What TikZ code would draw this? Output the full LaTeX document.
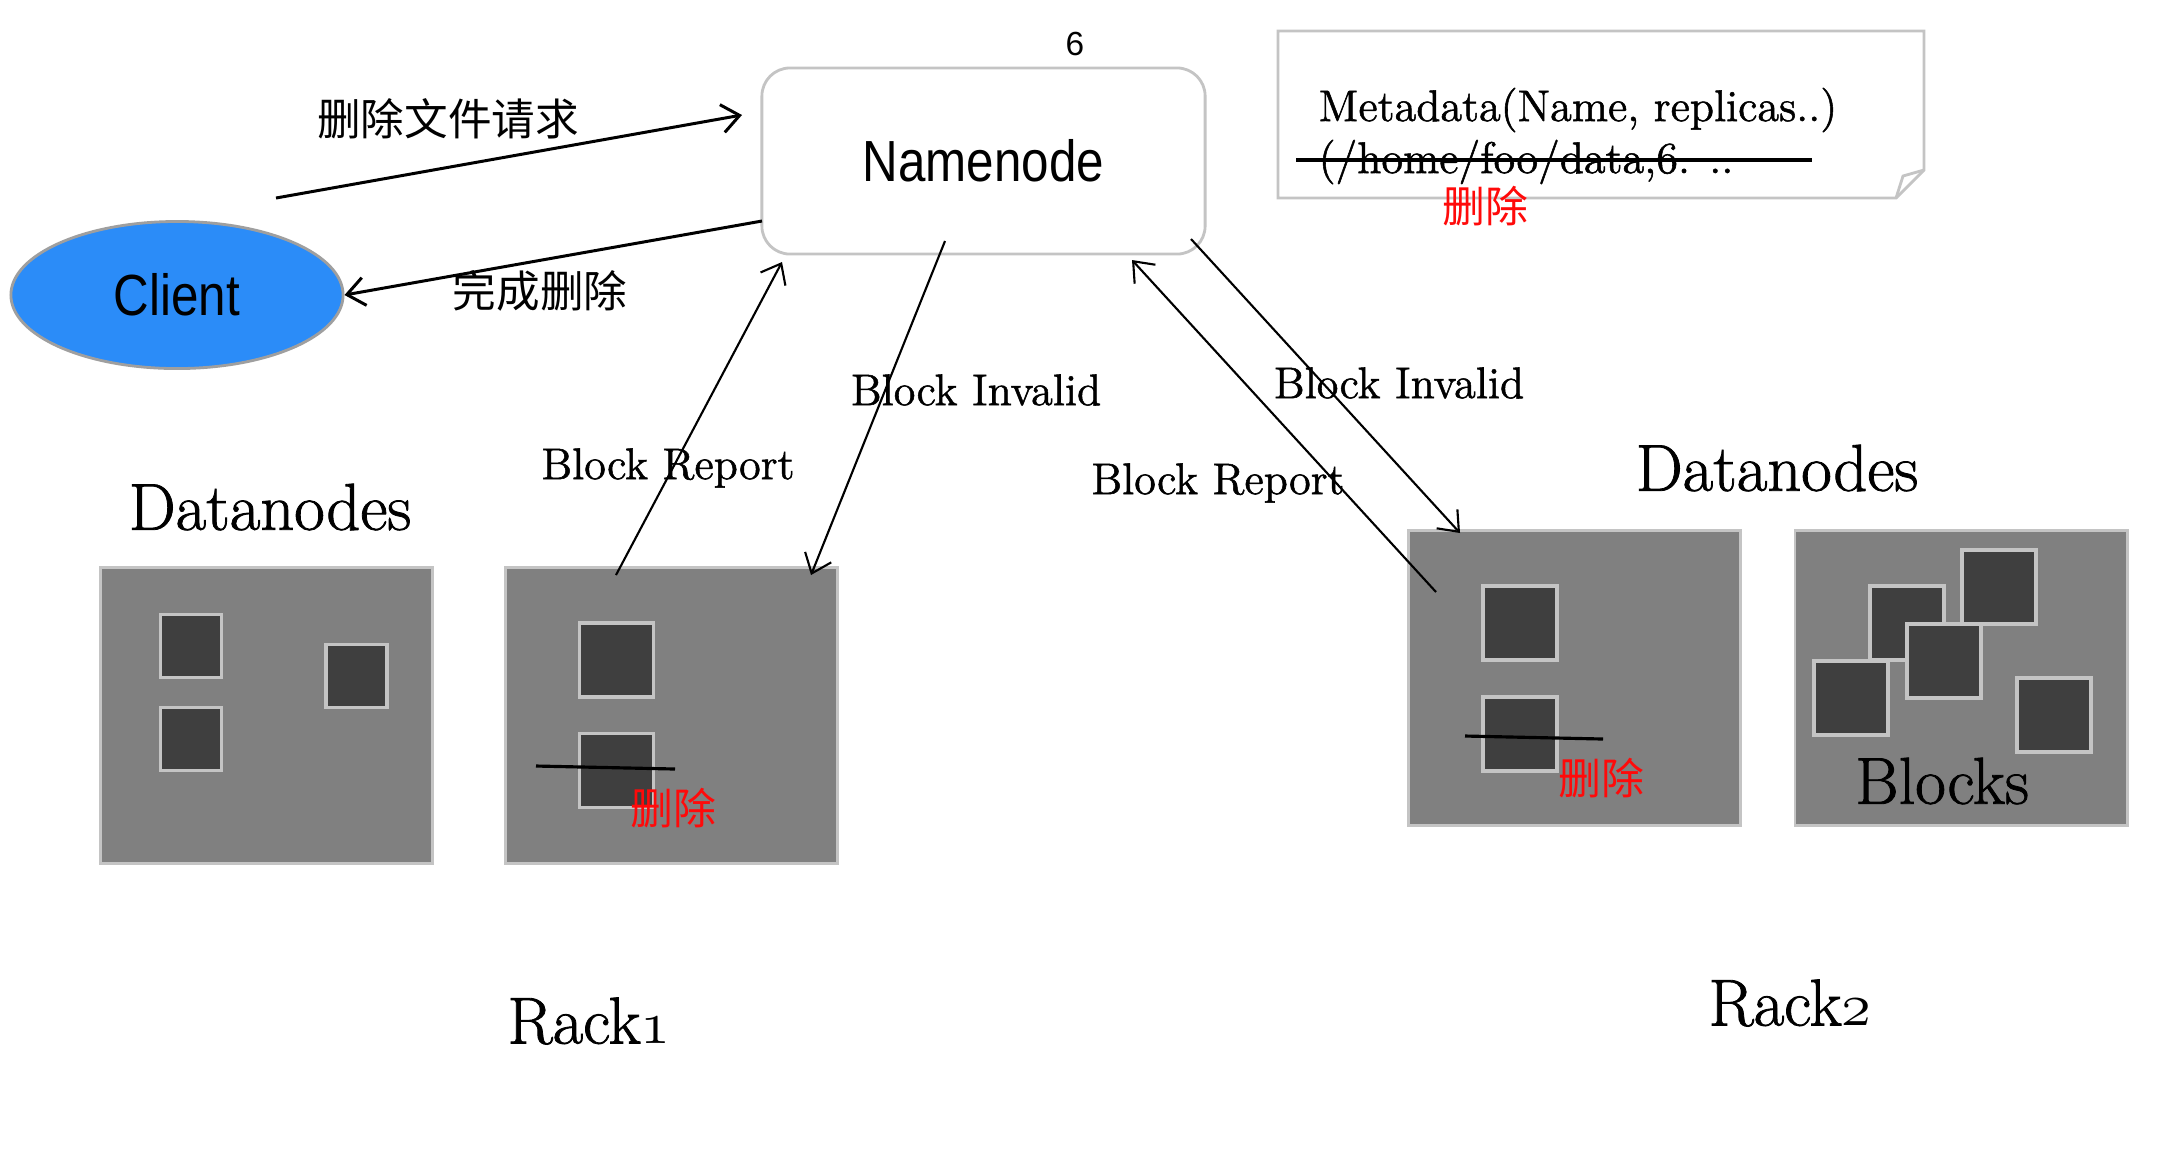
\documentclass[tikz,border=0pt]{standalone}
\usepackage{fontspec}
\usepackage{graphicx}
\newfontfamily\cjk{Noto Sans CJK SC}
\newfontfamily\hel{Liberation Sans}
\newfontfamily\serf[FakeBold=1.2]{Latin Modern Roman}
\usetikzlibrary{arrows.meta,shapes.geometric}
\definecolor{boxgray}{HTML}{808080}
\definecolor{blkgray}{HTML}{3F3F3F}
\definecolor{edgegray}{HTML}{C4C4C4}
\definecolor{clientblue}{HTML}{2B8CF8}
\definecolor{delred}{HTML}{FF0A0A}
\newcommand{\osn}[1]{{\usefont{OML}{cmm}{m}{it}#1}}
\begin{document}
\begin{tikzpicture}[x=0.01cm,y=-0.01cm,
  dnbox/.style={draw=edgegray,fill=boxgray,line width=0.8pt,inner sep=0pt,anchor=north west,minimum width=3.32cm,minimum height=2.96cm},
  blksmall/.style={draw=edgegray,fill=blkgray,line width=1pt,inner sep=0pt,anchor=north west,minimum width=0.61cm,minimum height=0.63cm},
  blkbig/.style={draw=edgegray,fill=blkgray,line width=1pt,inner sep=0pt,anchor=north west,minimum width=0.74cm,minimum height=0.74cm},
  cjklbl/.style={font=\cjk\fontsize{12.4}{14}\selectfont,inner sep=0pt},
  redlbl/.style={font=\cjk\fontsize{12.2}{14}\selectfont,text=delred,inner sep=0pt},
  serlbl/.style={font=\serf\fontsize{12.6}{14}\selectfont,inner sep=0pt},
  bigser/.style={font=\serf\fontsize{18.9}{21}\selectfont,inner sep=0pt},
  sanslbl/.style={font=\hel\fontsize{16.5}{18}\selectfont,inner sep=0pt},
  arrthick/.style={line width=0.85pt,-{Straight Barb[length=5pt,width=8pt]}},
  arrthin/.style={line width=0.6pt,-{Straight Barb[length=5pt,width=8pt]}},
  strike/.style={line width=0.9pt,black}
]
\useasboundingbox[fill=white] (0,0) rectangle (2164,1156);

% Namenode and client
\node[draw=edgegray,line width=0.8pt,rounded corners=8pt,fill=white,minimum width=4.43cm,minimum height=1.86cm,sanslbl] (nn) at (983.5,161) {\scalebox{0.85}[1]{Namenode}};
\node[font=\hel\fontsize{9.5}{11}\selectfont,inner sep=0pt] (six) at (1075,44) {6};
\node[ellipse,draw=gray!75,fill=clientblue,line width=0.8pt,minimum width=3.32cm,minimum height=1.47cm,sanslbl] (cl) at (177,295) {\scalebox{0.85}[1]{Client}};

% metadata note
\draw[draw=edgegray,line width=0.8pt,fill=white] (1278,31) -- (1924,31) -- (1924,170) -- (1896,198) -- (1278,198) -- cycle;
\draw[draw=edgegray,line width=0.8pt] (1924,170) -- (1903,176) -- (1896,198);
\node[serlbl,anchor=west] (md1) at (1318,110) {Metadata(Name, replicas..)};
\node[serlbl,anchor=west] (md2) at (1318,162) {(/home/foo/data,6. ..};
\coordinate (s0a) at (1296,160);
\coordinate (s0b) at (1812,160);
\draw[strike] (s0a) -- (s0b);
\node[redlbl] (del0) at (1485,206) {删除};

% client <-> namenode
\coordinate (a1s) at (276,198);
\coordinate (a1e) at (742,115);
\draw[arrthick] (a1s) -- (a1e);
\node[cjklbl] (req) at (448,119) {删除文件请求};
\coordinate (a2s) at (762,221);
\draw[arrthick] (a2s) -- (cl.east);
\node[cjklbl] (done) at (540,291) {完成删除};

% datanode boxes
\node[dnbox] (boxA) at (98.7,565.8) {};
\node[dnbox] (boxB) at (503.7,565.8) {};
\node[dnbox,minimum height=2.95cm] (boxC) at (1407,528.9) {};
\node[dnbox,minimum height=2.95cm] (boxD) at (1793.5,528.9) {};

% blocks in A
\node[blksmall] (a1) at (158.7,612.5) {};
\node[blksmall] (a2) at (158.7,705.8) {};
\node[blksmall] (a3) at (324.3,642.9) {};
% blocks in B
\node[blkbig] (b1) at (577.5,621.4) {};
\node[blkbig] (b2) at (577.5,731.7) {};
\coordinate (s1a) at (536,766);
\coordinate (s1b) at (675,769);
\draw[strike] (s1a) -- (s1b);
\node[redlbl] (del1) at (673,808) {删除};
% blocks in C
\node[blkbig] (c1) at (1481,584) {};
\node[blkbig] (c2) at (1481,695) {};
\coordinate (s2a) at (1465,736);
\coordinate (s2b) at (1603,739);
\draw[strike] (s2a) -- (s2b);
\node[redlbl] (del2) at (1601,778) {删除};
% blocks in D
\node[blkbig] (d1) at (1960,548) {};
\node[blkbig] (d2) at (1868,584) {};
\node[blkbig] (d3) at (1905,622) {};
\node[blkbig] (d4) at (1812,659) {};
\node[blkbig] (d5) at (2015,676) {};
\node[bigser] (blocks) at (1942,781) {Blocks};

% titles
\node[bigser] (dnl) at (270,507) {Datanodes};
\node[bigser] (dnr) at (1777,468) {Datanodes};
\node[bigser] (rack1) at (589,1021) {Rack\osn{1}};
\node[bigser] (rack2) at (1790,1003) {Rack\osn{2}};

% block report / invalid arrows
\coordinate (brl0) at (616,575);
\coordinate (brl1) at (782,262);
\draw[arrthin] (brl0) -- (brl1);
\node[serlbl] (brlt) at (668,468) {Block Report};
\coordinate (bil0) at (945,241);
\coordinate (bil1) at (811,575);
\draw[arrthin] (bil0) -- (bil1);
\node[serlbl] (bilt) at (976,390) {Block Invalid};
\coordinate (brr0) at (1436,592);
\coordinate (brr1) at (1132,260);
\draw[arrthin] (brr0) -- (brr1);
\node[serlbl] (brrt) at (1218,483) {Block Report};
\coordinate (bir0) at (1191,239);
\coordinate (bir1) at (1460,533);
\draw[arrthin] (bir0) -- (bir1);
\node[serlbl] (birt) at (1399,383) {Block Invalid};
\end{tikzpicture}
\end{document}
